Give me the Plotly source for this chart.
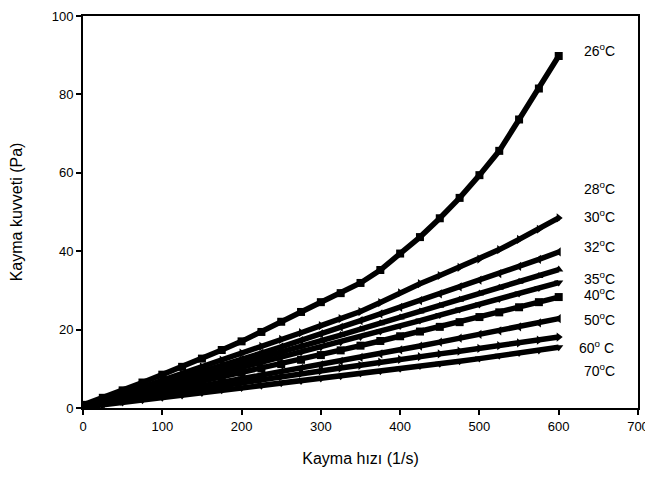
import plotly.graph_objects as go

shear_rate = [0, 25, 50, 75, 100, 125, 150, 175, 200, 225, 250, 275, 300,
              325, 350, 375, 400, 425, 450, 475, 500, 525, 550, 575, 600]

s26 = [0.8, 2.6, 4.5, 6.5, 8.5, 10.5, 12.6, 14.8, 17.0, 19.4, 22.0, 24.5, 27.0,
       29.3, 31.9, 35.2, 39.4, 43.6, 48.4, 53.6, 59.4, 65.6, 73.6, 81.5, 89.8]
s28 = [0.5, 1.9, 3.6, 5.3, 7.0, 8.7, 10.5, 12.2, 14.0, 15.7, 17.5, 19.2, 21.0,
       22.8, 24.6, 26.9, 29.4, 31.7, 33.8, 35.9, 38.0, 40.4, 43.0, 45.6, 48.5]
s30 = [0.5, 1.8, 3.2, 4.7, 6.2, 7.7, 9.3, 10.8, 12.4, 14.0, 15.6, 17.2, 18.9,
       20.6, 22.3, 24.0, 25.7, 27.4, 29.1, 30.9, 32.6, 34.3, 36.1, 37.9, 39.8]
s32 = [0.4, 1.6, 2.9, 4.3, 5.7, 7.1, 8.5, 9.9, 11.3, 12.7, 14.1, 15.6, 17.1,
       18.6, 20.1, 21.6, 23.1, 24.6, 26.1, 27.6, 29.2, 30.7, 32.2, 33.7, 35.3]
s35 = [0.4, 1.5, 2.7, 3.9, 5.1, 6.4, 7.7, 9.0, 10.3, 11.6, 12.9, 14.2, 15.5,
       16.8, 18.1, 19.5, 20.9, 22.3, 23.7, 25.1, 26.4, 27.8, 29.2, 30.6, 32.0]
s40 = [0.3, 1.3, 2.4, 3.5, 4.6, 5.7, 6.8, 7.9, 9.0, 10.1, 11.2, 12.3, 13.5,
       14.7, 15.9, 17.1, 18.3, 19.5, 20.7, 21.9, 23.2, 24.4, 25.7, 27.0, 28.3]
s50 = [0.3, 1.1, 2.0, 2.9, 3.8, 4.7, 5.6, 6.5, 7.4, 8.3, 9.2, 10.1, 11.0,
       11.9, 12.9, 13.8, 14.8, 15.8, 16.8, 17.8, 18.8, 19.7, 20.7, 21.7, 22.8]
s60 = [0.2, 0.9, 1.7, 2.5, 3.3, 4.1, 4.9, 5.7, 6.5, 7.3, 8.0, 8.8, 9.5,
       10.2, 10.9, 11.7, 12.4, 13.1, 13.8, 14.5, 15.2, 15.9, 16.6, 17.3, 18.1]
s70 = [0.2, 0.8, 1.4, 2.0, 2.6, 3.2, 3.8, 4.5, 5.1, 5.7, 6.3, 6.9, 7.5,
       8.1, 8.8, 9.4, 10.0, 10.7, 11.3, 11.9, 12.6, 13.3, 14.0, 14.7, 15.5]

series = [s26, s28, s30, s32, s35, s40, s50, s60, s70]
symbols = ["square", "triangle-right", "triangle-left", "triangle-up", "triangle-down",
           "square", "triangle-left", "triangle-right", "triangle-down"]

label_text = ["26<sup>o</sup>C", "28<sup>o</sup>C", "30<sup>o</sup>C", "32<sup>o</sup>C",
              "35<sup>o</sup>C", "40<sup>o</sup>C", "50<sup>o</sup>C", "60<sup>o</sup> C",
              "70<sup>o</sup>C"]
label_y = [91.4, 56.2, 48.9, 41.3, 33.2, 29.0, 22.7, 15.6, 9.6]
label_x = [651, 651, 651, 651, 651, 651, 651, 648, 651]

FONT = "Liberation Sans, Arial"

fig = go.Figure()
for vals, sym in zip(series, symbols):
    fig.add_trace(go.Scatter(
        x=shear_rate, y=vals, mode="lines+markers",
        line=dict(color="black", width=5.5),
        marker=dict(symbol=sym, size=8, color="black"),
        showlegend=False, hoverinfo="skip"))

for t, xx, yy in zip(label_text, label_x, label_y):
    fig.add_annotation(x=xx, y=yy, text=t, showarrow=False, xanchor="center",
                       yanchor="middle",
                       font=dict(family=FONT, size=14, color="black"))

axis_common = dict(showline=True, linecolor="black", linewidth=2, mirror=True,
                   ticks="outside", ticklen=5, tickwidth=2, tickcolor="black",
                   showgrid=False, zeroline=False, automargin=False,
                   ticklabeloverflow="allow",
                   tickfont=dict(family=FONT, size=13, color="black"))

fig.update_layout(
    width=645, height=473,
    margin=dict(l=75, r=15, t=8, b=73),
    paper_bgcolor="white", plot_bgcolor="white",
    xaxis=dict(range=[0, 700], dtick=100, tick0=0,
               title=dict(text="Kayma hızı (1/s)", standoff=20,
                          font=dict(family=FONT, size=16, color="black")),
               **axis_common),
    yaxis=dict(range=[0, 100], dtick=20, tick0=0,
               title=dict(text="Kayma kuvveti (Pa)", standoff=26,
                          font=dict(family=FONT, size=16, color="black")),
               **axis_common),
)

fig.write_html("out.html")
